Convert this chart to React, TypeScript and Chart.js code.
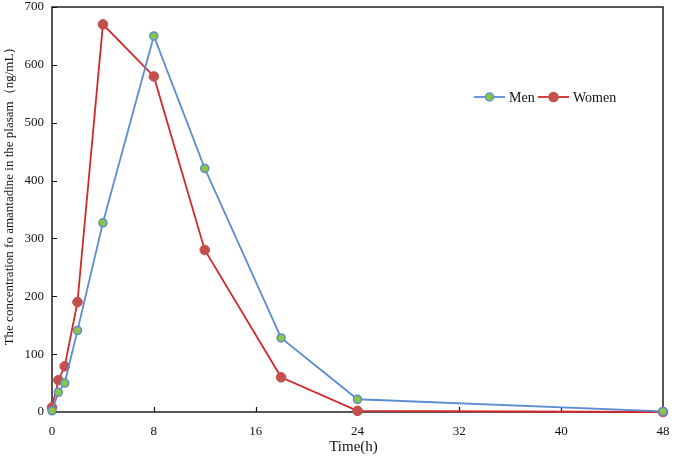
import { useEffect, useRef } from "react";
import { Chart, registerables } from "chart.js";

Chart.register(...registerables);

// Sampling times (h) and mean plasma concentrations (ng/mL)
const hours = [0, 0.5, 1, 2, 4, 8, 12, 18, 24, 48];
const menConc = [2, 34, 50, 141, 327, 650, 421, 128, 22, 1];
const womenConc = [8, 55, 79, 190, 670, 580, 280, 60, 2, 0];

const xTickValues = [0, 8, 16, 24, 32, 40, 48];
const yTickValues = [0, 100, 200, 300, 400, 500, 600, 700];

const seriesNames = ["Men", "Women"];
const xTitle = "Time(h)";
const yTitle = "The concentration fo amantadine in the plasam（ng/mL）";

const FONT = "'Liberation Serif', 'Times New Roman', serif";

const MEN_LINE = "#5b8dd3";
const MEN_FILL = "#8cc63f";
const WOMEN_LINE = "#d4282b";
const WOMEN_FILL = "#c4504c";

const framePlugin = {
  id: "frameAndDecor",
  beforeDatasetsDraw(chart: any) {
    const { ctx, chartArea } = chart;
    const { left, top, right, bottom } = chartArea;
    ctx.save();
    ctx.strokeStyle = "#111";
    ctx.lineWidth = 1.4;
    ctx.strokeRect(left, top, right - left, bottom - top);
    // inward tick marks
    const xs = chart.scales.x;
    const ys = chart.scales.y;
    ctx.lineWidth = 1.2;
    ctx.beginPath();
    for (const v of xTickValues) {
      const px = Math.round(xs.getPixelForValue(v)) + 0.5;
      ctx.moveTo(px, bottom);
      ctx.lineTo(px, bottom - 5);
    }
    for (const v of yTickValues) {
      const py = Math.round(ys.getPixelForValue(v)) + 0.5;
      ctx.moveTo(left, py);
      ctx.lineTo(left + 5, py);
    }
    ctx.stroke();
    ctx.restore();
  },
  afterDraw(chart: any) {
    const { ctx, chartArea } = chart;
    ctx.save();
    ctx.fillStyle = "#111";
    // axis titles
    ctx.font = `15px ${FONT}`;
    ctx.textAlign = "center";
    ctx.textBaseline = "middle";
    ctx.fillText(xTitle, (chartArea.left + chartArea.right) / 2 - 4, 447);
    ctx.save();
    ctx.translate(10, 193);
    ctx.rotate(-Math.PI / 2);
    ctx.font = `13px ${FONT}`;
    ctx.fillText(yTitle, 0, 0);
    ctx.restore();

    // legend with line + marker symbols
    const ly = 97;
    const items = [
      { name: seriesNames[0], x: 474, line: MEN_LINE, fill: MEN_FILL, border: MEN_LINE, r: 4 },
      { name: seriesNames[1], x: 538, line: WOMEN_LINE, fill: WOMEN_FILL, border: WOMEN_FILL, r: 4.5 },
    ];
    ctx.font = `14px ${FONT}`;
    ctx.textAlign = "left";
    for (const it of items) {
      ctx.strokeStyle = it.line;
      ctx.lineWidth = 1.8;
      ctx.beginPath();
      ctx.moveTo(it.x, ly);
      ctx.lineTo(it.x + 31, ly);
      ctx.stroke();
      ctx.beginPath();
      ctx.arc(it.x + 15.5, ly, it.r, 0, Math.PI * 2);
      ctx.fillStyle = it.fill;
      ctx.fill();
      ctx.lineWidth = 1.5;
      ctx.strokeStyle = it.border;
      ctx.stroke();
      ctx.fillStyle = "#111";
      ctx.fillText(it.name, it.x + 35, ly + 1);
    }
    ctx.restore();
  },
};

export default function App() {
  const canvasRef = useRef<HTMLCanvasElement | null>(null);

  useEffect(() => {
    document.body.style.margin = "0";
    const canvas = canvasRef.current;
    if (!canvas) return;
    const chart = new Chart(canvas, {
      type: "scatter",
      data: {
        datasets: [
          {
            label: seriesNames[0],
            data: hours.map((h, i) => ({ x: h, y: menConc[i] })),
            showLine: true,
            borderColor: MEN_LINE,
            borderWidth: 1.8,
            pointBackgroundColor: MEN_FILL,
            pointBorderColor: MEN_LINE,
            pointBorderWidth: 1.5,
            pointRadius: 4,
            clip: false,
            tension: 0,
          },
          {
            label: seriesNames[1],
            data: hours.map((h, i) => ({ x: h, y: womenConc[i] })),
            showLine: true,
            borderColor: WOMEN_LINE,
            borderWidth: 1.8,
            pointBackgroundColor: WOMEN_FILL,
            pointBorderColor: WOMEN_FILL,
            pointBorderWidth: 1,
            pointRadius: 4.8,
            clip: false,
            tension: 0,
          },
        ],
      },
      options: {
        responsive: false,
        animation: false,
        layout: { padding: { left: 0, right: 10, top: 7, bottom: 0 } },
        plugins: {
          legend: { display: false },
          tooltip: { enabled: false },
        },
        scales: {
          x: {
            type: "linear",
            min: 0,
            max: 48,
            afterBuildTicks: (scale: any) => {
              scale.ticks = xTickValues.map((v) => ({ value: v }));
            },
            afterFit: (scale: any) => {
              scale.height = 46;
              scale.paddingLeft = 0;
              scale.paddingRight = 0;
            },
            grid: { display: false, drawTicks: false },
            border: { display: false },
            ticks: {
              padding: 12,
              color: "#111",
              font: { family: FONT, size: 13 },
              maxRotation: 0,
            },
          },
          y: {
            type: "linear",
            min: 0,
            max: 700,
            afterBuildTicks: (scale: any) => {
              scale.ticks = yTickValues.map((v) => ({ value: v }));
            },
            afterFit: (scale: any) => {
              scale.width = 52;
              scale.paddingTop = 0;
              scale.paddingBottom = 0;
            },
            grid: { display: false, drawTicks: false },
            border: { display: false },
            ticks: {
              padding: 8,
              color: "#111",
              font: { family: FONT, size: 13 },
            },
          },
        },
      },
      plugins: [framePlugin],
    });
    return () => chart.destroy();
  }, []);

  return (
    <div style={{ width: 673, height: 458, background: "#fff" }}>
      <canvas ref={canvasRef} width={673} height={458} />
    </div>
  );
}
